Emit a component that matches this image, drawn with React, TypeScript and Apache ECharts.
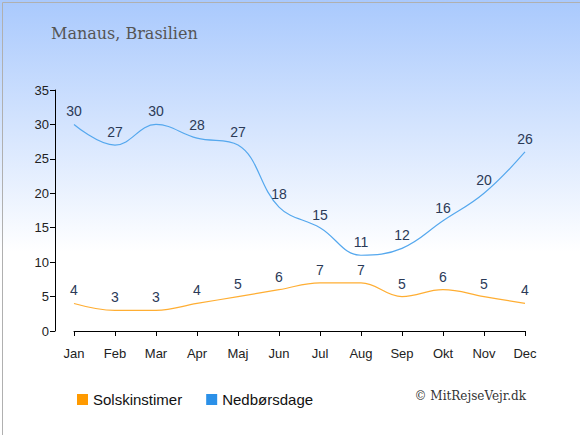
import React, { useEffect, useRef } from "react";
import * as echarts from "echarts";

const months = ["Jan", "Feb", "Mar", "Apr", "Maj", "Jun", "Jul", "Aug", "Sep", "Okt", "Nov", "Dec"];
const sunHours = [4, 3, 3, 4, 5, 6, 7, 7, 5, 6, 5, 4];
const rainDays = [30, 27, 30, 28, 27, 18, 15, 11, 12, 16, 20, 26];
const yTicks = { min: 0, max: 35, interval: 5 };
const titleText = "Manaus, Brasilien";
const creditText = "© MitRejseVejr.dk";
const seriesNames = ["Solskinstimer", "Nedbørsdage"];

export default function App() {
  const ref = useRef<HTMLDivElement>(null);
  useEffect(() => {
    if (!ref.current) return;
    const chart = echarts.init(ref.current, null, { renderer: "svg" });
    const labelStyle = {
      show: true,
      position: "top" as const,
      color: "#2b3a57",
      fontSize: 14,
      fontFamily: "Liberation Sans, Arial, sans-serif",
      distance: 6,
    };
    chart.setOption({
      animation: false,
      backgroundColor: new echarts.graphic.LinearGradient(0, 0, 0, 1, [
        { offset: 0, color: "#a9c9fd" },
        { offset: 0.58, color: "#ffffff" },
        { offset: 1, color: "#ffffff" },
      ]),
      title: {
        text: titleText,
        left: 46,
        top: 20,
        textStyle: {
          fontFamily: "DejaVu Serif, serif",
          fontWeight: "normal",
          fontSize: 16,
          color: "#555555",
        },
      },
      grid: { left: 74, right: 55, top: 90, bottom: 104, containLabel: false },
      legend: {
        left: 72,
        top: 387,
        itemWidth: 11,
        itemHeight: 11,
        itemGap: 24,
        icon: "rect",
        textStyle: { fontSize: 15, color: "#111", fontFamily: "Liberation Sans, Arial, sans-serif" },
        data: [
          { name: seriesNames[0], itemStyle: { color: "#ff9a00" } },
          { name: seriesNames[1], itemStyle: { color: "#2b90e8" } },
        ],
      },
      graphic: [
        {
          type: "text",
          right: 54,
          top: 390,
          style: {
            text: creditText,
            font: "12px 'DejaVu Serif', serif",
            fill: "#333",
          },
        },
        {
          type: "rect",
          left: 0,
          top: 0,
          shape: { width: 579, height: 434 },
          style: { fill: "none", stroke: "#b0b0b0", lineWidth: 1 },
          silent: true,
        },
      ],
      xAxis: {
        type: "category",
        data: months,
        boundaryGap: false,
        offset: 9,
        axisLine: { lineStyle: { color: "#000" } },
        axisTick: { alignWithLabel: true, length: 5, lineStyle: { color: "#000" } },
        axisLabel: { color: "#222", fontSize: 13, fontFamily: "Liberation Sans, Arial, sans-serif", margin: 7 },
        splitLine: { show: false },
      },
      yAxis: {
        type: "value",
        min: yTicks.min,
        max: yTicks.max,
        interval: yTicks.interval,
        offset: 19,
        axisLine: { show: true, lineStyle: { color: "#000" } },
        axisTick: { show: true, length: 5, lineStyle: { color: "#000" } },
        axisLabel: { color: "#222", fontSize: 13, fontFamily: "Liberation Sans, Arial, sans-serif", margin: 6 },
        splitLine: { show: false },
      },
      series: [
        {
          name: seriesNames[0],
          type: "line",
          data: sunHours,
          smooth: 0.4,
          symbol: "circle",
          symbolSize: 0,
          showSymbol: true,
          lineStyle: { color: "#ffae33", width: 1.2 },
          itemStyle: { color: "#ff9a00" },
          label: labelStyle,
        },
        {
          name: seriesNames[1],
          type: "line",
          data: rainDays,
          smooth: 0.4,
          symbol: "circle",
          symbolSize: 0,
          showSymbol: true,
          lineStyle: { color: "#55a8ee", width: 1.2 },
          itemStyle: { color: "#2b90e8" },
          label: labelStyle,
        },
      ],
    });
    return () => chart.dispose();
  }, []);
  return <div ref={ref} style={{ position: "fixed", left: 0, top: 0, width: 580, height: 435 }} />;
}
